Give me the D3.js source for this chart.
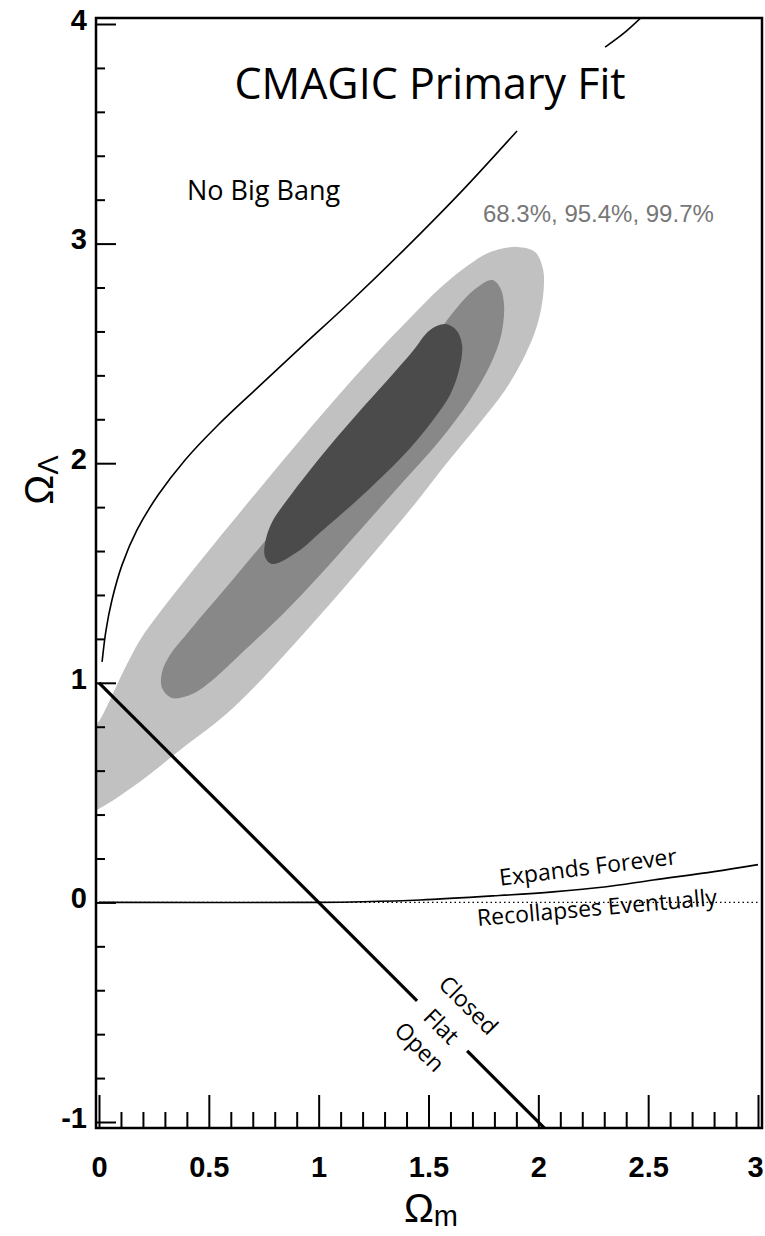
<!DOCTYPE html>
<head>
  <meta charset="utf-8">
  <style>
    body { margin: 0; background: #fff; }
    .axis text {
      font-family: 'Liberation Sans', Arial, sans-serif;
      font-weight: bold;
      font-size: 29px;
      fill: #000;
    }
    .axis line { stroke: #000; stroke-width: 2px; }
    .note { font-family: 'Open Sans', sans-serif; fill: #000; }
  </style>
  <script src="https://d3js.org/d3.v7.min.js"></script>
</head>
<body>
<script>
  // confidence contours, points are [Omega_m, Omega_Lambda]
  const outer997 = [
    [1.689, 2.907], [1.781, 2.962], [1.903, 2.985], [1.985, 2.962], [2.022, 2.88],
    [2.022, 2.766], [1.995, 2.629], [1.94, 2.493], [1.849, 2.333], [1.726, 2.174],
    [1.576, 1.992], [1.434, 1.81], [1.27, 1.614], [1.107, 1.423], [0.938, 1.231],
    [0.76, 1.036], [0.574, 0.853], [0.369, 0.694], [0.209, 0.566], [0.087, 0.48],
    [0.005, 0.43], [-0.05, 0.407], [-0.096, 0.512], [-0.087, 0.717], [-0.005, 0.817],
    [0.05, 0.922], [0.114, 1.058], [0.187, 1.195], [0.278, 1.322], [0.392, 1.468],
    [0.528, 1.637], [0.688, 1.832], [0.87, 2.051], [1.052, 2.265], [1.234, 2.47],
    [1.416, 2.661], [1.553, 2.798]
  ];
  const mid954 = [
    [1.79, 2.834], [1.826, 2.799], [1.844, 2.72], [1.831, 2.584], [1.781, 2.447],
    [1.689, 2.288], [1.553, 2.106], [1.371, 1.901], [1.189, 1.696], [1.006, 1.491],
    [0.833, 1.309], [0.665, 1.15], [0.528, 1.022], [0.424, 0.949], [0.332, 0.931],
    [0.287, 0.976], [0.287, 1.049], [0.323, 1.127], [0.392, 1.213], [0.483, 1.322],
    [0.619, 1.482], [0.779, 1.673], [0.961, 1.887], [1.143, 2.106], [1.325, 2.32],
    [1.485, 2.516], [1.621, 2.698], [1.712, 2.793]
  ];
  const inner683 = [
    [1.507, 2.607], [1.576, 2.634], [1.626, 2.607], [1.653, 2.538], [1.639, 2.424],
    [1.598, 2.311], [1.521, 2.197], [1.421, 2.074], [1.298, 1.947], [1.161, 1.819],
    [1.02, 1.696], [0.897, 1.592], [0.788, 1.541], [0.756, 1.573], [0.756, 1.637],
    [0.788, 1.732], [0.856, 1.832], [0.961, 1.969], [1.084, 2.119], [1.211, 2.265],
    [1.334, 2.402], [1.425, 2.506]
  ];
  const contourFill = ['#c1c1c1', '#888888', '#4b4b4b'];

  // "No Big Bang" boundary, broken where the title sits
  const noBangLow = [
    [0.014, 1.095], [0.032, 1.24], [0.059, 1.377], [0.105, 1.537], [0.173, 1.696],
    [0.269, 1.855], [0.392, 2.015], [0.542, 2.174], [0.71, 2.333], [0.915, 2.524],
    [1.143, 2.734], [1.393, 2.976], [1.644, 3.231], [1.903, 3.513]
  ];
  const noBangHigh = [[2.304, 3.895], [2.395, 3.963], [2.50, 4.06]];

  // expands forever / recollapses boundary
  const expandLine = [
    [0, 0], [1.0, 0], [1.2, 0.003], [1.462, 0.011], [1.8, 0.03], [2.067, 0.048],
    [2.3, 0.07], [2.523, 0.102], [2.8, 0.14], [3.0, 0.172]
  ];
  const zeroLine = [[0, 0], [3, 0]];

  // flat universe line, gap for the labels
  const flatA = [[0, 1], [1.448, -0.448]];
  const flatB = [[1.676, -0.676], [2.08, -1.08]];

  const xMajor = [0, 0.5, 1, 1.5, 2, 2.5, 3];
  const xLabels = ['0', '0.5', '1', '1.5', '2', '2.5', '3'];
  const yMajor = [-1, 0, 1, 2, 3, 4];
  const yLabels = ['-1', '0', '1', '2', '3', '4'];

  const w = 765, h = 1236;
  const frame = { left: 96, right: 762, top: 18, bottom: 1128 };

  const svg = d3.select('body').append('svg')
    .attr('width', w)
    .attr('height', h);

  const xScale = d3.scaleLinear().domain([0, 3]).range([99, 758]);
  const yScale = d3.scaleLinear().domain([-1, 4]).range([1122, 24]);

  svg.append('clipPath')
    .attr('id', 'plot-area')
    .append('rect')
    .attr('x', frame.left)
    .attr('y', frame.top)
    .attr('width', frame.right - frame.left)
    .attr('height', frame.bottom - frame.top);

  const plot = svg.append('g').attr('clip-path', 'url(#plot-area)');

  const closedLine = d3.line()
    .x(d => xScale(d[0]))
    .y(d => yScale(d[1]))
    .curve(d3.curveCatmullRomClosed.alpha(0.5));

  const openLine = d3.line()
    .x(d => xScale(d[0]))
    .y(d => yScale(d[1]))
    .curve(d3.curveCatmullRom.alpha(0.5));

  plot.selectAll('path.contour')
    .data([outer997, mid954, inner683])
    .enter()
    .append('path')
    .attr('class', 'contour')
    .attr('d', closedLine)
    .attr('fill', (d, i) => contourFill[i]);

  plot.append('path')
    .attr('d', openLine(zeroLine))
    .attr('fill', 'none')
    .attr('stroke', '#000')
    .attr('stroke-width', 1.3)
    .attr('stroke-dasharray', '1.5,3');

  plot.selectAll('path.curve')
    .data([noBangLow, noBangHigh, expandLine])
    .enter()
    .append('path')
    .attr('class', 'curve')
    .attr('d', openLine)
    .attr('fill', 'none')
    .attr('stroke', '#000')
    .attr('stroke-width', 1.6);

  plot.selectAll('path.flat')
    .data([flatA, flatB])
    .enter()
    .append('path')
    .attr('class', 'flat')
    .attr('d', d3.line().x(d => xScale(d[0])).y(d => yScale(d[1])))
    .attr('fill', 'none')
    .attr('stroke', '#000')
    .attr('stroke-width', 3.2);

  // axes: ticks point inward
  const xMinor = d3.range(0, 3.001, 0.1).filter(v => Math.abs(v * 2 - Math.round(v * 2)) > 0.01);
  const yMinor = d3.range(-1, 4.001, 0.2).filter(v => Math.abs(v - Math.round(v)) > 0.01);

  const xAxisG = svg.append('g')
    .attr('class', 'axis')
    .attr('transform', `translate(0, ${frame.bottom})`);
  xAxisG.append('g').call(d3.axisBottom(xScale).tickValues(xMinor).tickSize(-16).tickFormat(''));
  xAxisG.append('g').call(d3.axisBottom(xScale).tickValues(xMajor).tickSize(-33).tickPadding(28)
    .tickFormat((d, i) => xLabels[i]));
  // last label sits against the page edge
  xAxisG.selectAll('text').filter(d => d === 3).attr('dx', -3);

  const yAxisG = svg.append('g')
    .attr('class', 'axis')
    .attr('transform', `translate(${frame.left}, 0)`);
  yAxisG.append('g').call(d3.axisLeft(yScale).tickValues(yMinor).tickSize(-9).tickFormat(''));
  yAxisG.append('g').call(d3.axisLeft(yScale).tickValues(yMajor).tickSize(-20).tickPadding(9)
    .tickFormat((d, i) => yLabels[i]));
  yAxisG.selectAll('text').attr('dy', '0.18em');

  svg.selectAll('.axis .domain').remove();

  svg.append('rect')
    .attr('x', frame.left)
    .attr('y', frame.top)
    .attr('width', frame.right - frame.left)
    .attr('height', frame.bottom - frame.top)
    .attr('fill', 'none')
    .attr('stroke', '#000')
    .attr('stroke-width', 2.5);

  // texts
  svg.append('text')
    .attr('class', 'note')
    .attr('x', 430)
    .attr('y', 99)
    .attr('text-anchor', 'middle')
    .attr('font-size', 43)
    .text('CMAGIC Primary Fit');

  svg.append('text')
    .attr('class', 'note')
    .attr('x', 187)
    .attr('y', 200)
    .attr('font-size', 27)
    .text('No Big Bang');

  svg.append('text')
    .attr('x', 483)
    .attr('y', 222)
    .attr('font-family', "'Liberation Sans', Arial, sans-serif")
    .attr('font-size', 24)
    .attr('fill', '#777')
    .text('68.3%, 95.4%, 99.7%');

  svg.append('text')
    .attr('class', 'note')
    .attr('font-size', 23)
    .attr('text-anchor', 'middle')
    .attr('transform', `translate(${xScale(2.23)}, ${yScale(0.125)}) rotate(-7)`)
    .text('Expands Forever');

  svg.append('text')
    .attr('class', 'note')
    .attr('font-size', 23)
    .attr('text-anchor', 'middle')
    .attr('transform', `translate(${xScale(2.27)}, ${yScale(-0.06)}) rotate(-5)`)
    .text('Recollapses Eventually');

  const fx = xScale(1.562), fy = yScale(-0.562);
  const flatNotes = [['Closed', 34, 4], ['Flat', 0, 0], ['Open', -30, -1]];
  flatNotes.forEach(([txt, perp, along]) => {
    const cx = fx + (perp + along) / Math.SQRT2;
    const cy = fy + (-perp + along) / Math.SQRT2;
    svg.append('text')
      .attr('class', 'note')
      .attr('font-size', 23)
      .attr('text-anchor', 'middle')
      .attr('dominant-baseline', 'central')
      .attr('transform', `translate(${cx}, ${cy}) rotate(45)`)
      .text(txt);
  });

  // axis titles
  const xTitle = svg.append('text')
    .attr('x', 431)
    .attr('y', 1222)
    .attr('text-anchor', 'middle')
    .attr('font-family', "'Liberation Sans', Arial, sans-serif")
    .attr('font-size', 40);
  xTitle.append('tspan').text('Ω');
  xTitle.append('tspan').attr('font-size', 29).attr('dy', 4).text('m');

  const yTitle = svg.append('text')
    .attr('transform', 'translate(53, 480) rotate(-90)')
    .attr('text-anchor', 'middle')
    .attr('font-family', "'Liberation Sans', Arial, sans-serif")
    .attr('font-size', 40);
  yTitle.append('tspan').text('Ω');
  yTitle.append('tspan').attr('font-size', 29).attr('dy', 5).text('Λ');
</script>
</body>
